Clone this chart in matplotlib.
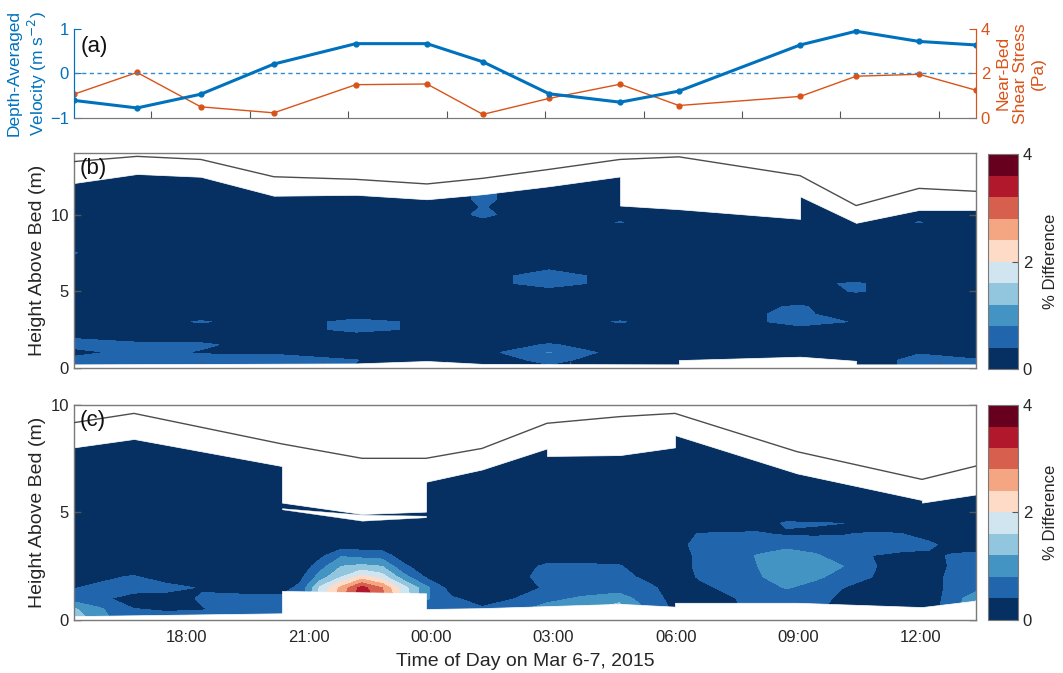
import numpy as np
import matplotlib
matplotlib.use('Agg')
import matplotlib.pyplot as plt
from matplotlib.colors import ListedColormap

plt.rcParams['font.family'] = ['Liberation Sans', 'DejaVu Sans']
plt.rcParams['text.color'] = '#262626'
plt.rcParams['axes.labelcolor'] = '#262626'

# time in hours from 00:00 on Mar 7 (negative = Mar 6)
prof_t = [-8.745, -7.2, -5.64, -3.85, -1.84, -0.1, 1.27, 2.89, 4.63, 6.07, 9.04, 10.41, 11.95, 13.346]

# (a) depth-averaged velocity and near-bed shear stress
velocity = [-0.61, -0.78, -0.47, 0.21, 0.67, 0.67, 0.26, -0.46, -0.65, -0.40, 0.64, 0.95, 0.72, 0.64]
stress = [1.06, 2.04, 0.49, 0.22, 1.49, 1.52, 0.15, 0.87, 1.51, 0.55, 0.96, 1.87, 1.96, 1.24]

a_ticks = [-6.85, -4.44, -2.03, 0.39, 2.80, 5.21, 7.62, 10.02, 12.43]
b_ticks = [-5.63, -2.62, 0.39, 3.40, 6.41, 9.42, 12.43]
c_ticks = [-6, -3, 0, 3, 6, 9, 12]
c_tick_labels = ['18:00', '21:00', '00:00', '03:00', '06:00', '09:00', '12:00']

# (b) water surface, top and bottom of valid data (m)
surf_b = [13.46, 13.8, 13.6, 12.47, 12.3, 12.0, 12.37, 12.95, 13.6, 13.77, 12.54, 10.59, 11.71, 11.52]
top_b_t = [-8.745, -7.2, -5.64, -3.85, -1.84, -0.1, 1.27, 2.89, 4.63, 4.63, 6.07, 9.04, 9.04, 10.41, 11.95, 13.346]
top_b_h = [12.06, 12.65, 12.47, 11.23, 11.29, 11.0, 11.33, 11.85, 12.49, 10.59, 10.35, 9.72, 11.19, 9.46, 10.3, 10.3]
bot_b_t = [-8.745, -1.84, -0.1, 1.27, 6.07, 6.07, 9.04, 10.41, 10.41, 13.346]
bot_b_h = [0.22, 0.28, 0.44, 0.25, 0.22, 0.5, 0.72, 0.45, 0.22, 0.22]

# (b) % difference, one row per height (0 to 13 m by 0.5), one value per profile
h_b = np.arange(0, 13.01, 0.5)
diff_b = [
    [0.6, 0.6, 0.6, 0.55, 0.38, 0.1, 0.1, 0.3, 0.1, 0.1, 0.1, 0.1, 0.55, 0.45],
    [0.6, 0.6, 0.6, 0.55, 0.41, 0.1, 0.1, 0.55, 0.1, 0.1, 0.1, 0.1, 0.55, 0.45],
    [0.2, 0.6, 0.35, 0.35, 0.1, 0.1, 0.25, 0.82, 0.2, 0.1, 0.1, 0.1, 0.36, 0.1],
    [0.6, 0.55, 0.5, 0.1, 0.1, 0.1, 0.1, 0.45, 0.1, 0.1, 0.1, 0.1, 0.1, 0.1],
    [0.35, 0.1, 0.1, 0.1, 0.1, 0.1, 0.1, 0.1, 0.1, 0.1, 0.1, 0.1, 0.1, 0.1],
    [0.1, 0.1, 0.1, 0.1, 0.56, 0.3, 0.1, 0.1, 0.1, 0.1, 0.3, 0.1, 0.1, 0.1],
    [0.1, 0.1, 0.45, 0.1, 0.56, 0.3, 0.1, 0.1, 0.44, 0.1, 0.51, 0.38, 0.1, 0.1],
    [0.1, 0.1, 0.1, 0.1, 0.1, 0.1, 0.1, 0.1, 0.1, 0.1, 0.51, 0.1, 0.1, 0.1],
    [0.1, 0.1, 0.1, 0.1, 0.1, 0.1, 0.1, 0.1, 0.1, 0.1, 0.45, 0.1, 0.1, 0.1],
    [0.1, 0.1, 0.1, 0.1, 0.1, 0.1, 0.1, 0.1, 0.1, 0.1, 0.1, 0.1, 0.1, 0.1],
    [0.1, 0.1, 0.1, 0.1, 0.1, 0.1, 0.1, 0.1, 0.1, 0.1, 0.1, 0.45, 0.1, 0.1],
    [0.1, 0.1, 0.1, 0.1, 0.1, 0.1, 0.1, 0.74, 0.1, 0.1, 0.3, 0.45, 0.1, 0.1],
    [0.1, 0.1, 0.1, 0.1, 0.1, 0.1, 0.1, 0.74, 0.1, 0.1, 0.3, 0.1, 0.1, 0.1],
    [0.1, 0.1, 0.1, 0.1, 0.1, 0.1, 0.1, 0.3, 0.1, 0.1, 0.1, 0.1, 0.1, 0.1],
    [0.1, 0.1, 0.1, 0.1, 0.1, 0.1, 0.1, 0.1, 0.1, 0.1, 0.1, 0.1, 0.1, 0.1],
    [0.42, 0.1, 0.1, 0.1, 0.1, 0.1, 0.1, 0.1, 0.1, 0.1, 0.1, 0.1, 0.1, 0.1],
    [0.1, 0.1, 0.1, 0.1, 0.1, 0.1, 0.1, 0.1, 0.1, 0.1, 0.1, 0.1, 0.1, 0.1],
    [0.1, 0.1, 0.1, 0.1, 0.1, 0.1, 0.1, 0.1, 0.1, 0.1, 0.1, 0.1, 0.1, 0.1],
    [0.1, 0.1, 0.1, 0.1, 0.1, 0.1, 0.1, 0.1, 0.1, 0.1, 0.1, 0.1, 0.1, 0.1],
    [0.1, 0.1, 0.1, 0.1, 0.1, 0.1, 0.3, 0.1, 0.42, 0.1, 0.1, 0.1, 0.42, 0.1],
    [0.1, 0.1, 0.1, 0.1, 0.1, 0.1, 0.48, 0.1, 0.1, 0.1, 0.1, 0.1, 0.1, 0.1],
    [0.1, 0.1, 0.1, 0.1, 0.1, 0.1, 0.42, 0.1, 0.1, 0.1, 0.1, 0.1, 0.1, 0.1],
    [0.1, 0.1, 0.1, 0.1, 0.1, 0.1, 0.48, 0.1, 0.1, 0.1, 0.1, 0.1, 0.1, 0.1],
    [0.1, 0.1, 0.1, 0.1, 0.1, 0.1, 0.48, 0.1, 0.1, 0.1, 0.1, 0.1, 0.1, 0.1],
    [0.1, 0.1, 0.1, 0.1, 0.1, 0.1, 0.1, 0.1, 0.1, 0.1, 0.1, 0.1, 0.1, 0.1],
    [0.1, 0.1, 0.1, 0.1, 0.1, 0.1, 0.1, 0.1, 0.1, 0.1, 0.1, 0.1, 0.1, 0.1],
    [0.1, 0.1, 0.1, 0.1, 0.1, 0.1, 0.1, 0.1, 0.1, 0.1, 0.1, 0.1, 0.1, 0.1],
]

# (c) water surface, top / bottom of valid data, gap in the data
surf_c_t = [-8.745, -7.276, -3.651, -1.691, -0.124, 1.248, 2.84, 4.628, 5.975, 8.963, 12.024, 13.346]
surf_c_h = [9.18, 9.61, 8.19, 7.52, 7.52, 7.98, 9.15, 9.46, 9.61, 7.83, 6.54, 7.16]
top_c_t = [-8.745, -7.276, -3.651, -3.651, -1.691, -0.124, -0.124, 1.248, 2.84, 2.84, 4.628, 5.975, 5.975, 8.963, 12.024, 12.024, 13.346]
top_c_h = [8.03, 8.42, 7.16, 5.46, 4.93, 5.04, 6.43, 7.0, 7.98, 7.63, 7.67, 8.03, 8.6, 6.82, 5.58, 5.46, 5.84]
bot_c_t = [-8.745, -3.651, -3.651, -0.124, -0.124, 1.248, 4.628, 5.975, 5.975, 8.963, 12.024, 13.346]
bot_c_h = [0.18, 0.31, 1.35, 1.24, 0.51, 0.55, 0.75, 0.62, 0.8, 0.8, 0.6, 0.9]
gap_c_t = [-3.651, -1.691, -0.124]
gap_c_lo = [5.15, 4.62, 4.78]
gap_c_hi = [5.2, 4.9, 4.85]

# (c) % difference, one list per time (heights below)
h_c = [0, 0.5, 1, 1.5, 2, 2.5, 3, 3.5, 4, 4.5, 5, 6, 7, 8, 9]
t_c = [-8.745, -8.1, -7.3, -6.5, -5.6, -4.6, -3.65, -3.2, -2.7, -2.2, -1.7, -1.2, -0.7, -0.12, 0.5, 1.25,
       2.0, 2.85, 3.7, 4.6, 5.3, 6.0, 6.6, 7.3, 8.0, 8.7, 9.4, 10.1, 10.8, 11.5, 12.2, 12.8, 13.346]
diff_c_profiles = [
    [1.6, 1.25, 0.6, 0.38, 0.1, 0.1, 0.1, 0.1, 0.1, 0.1, 0.1, 0.1, 0.1, 0.1, 0.1],
    [0.9, 0.85, 0.5, 0.5, 0.3, 0.1, 0.1, 0.1, 0.1, 0.1, 0.1, 0.1, 0.1, 0.1, 0.1],
    [0.6, 0.42, 0.2, 0.6, 0.45, 0.1, 0.1, 0.1, 0.1, 0.1, 0.1, 0.1, 0.1, 0.1, 0.1],
    [0.6, 0.35, 0.2, 0.55, 0.2, 0.1, 0.1, 0.1, 0.1, 0.1, 0.1, 0.1, 0.1, 0.1, 0.1],
    [0.6, 0.38, 0.45, 0.36, 0.1, 0.1, 0.1, 0.1, 0.1, 0.1, 0.1, 0.1, 0.1, 0.1, 0.1],
    [0.55, 0.55, 0.5, 0.25, 0.1, 0.1, 0.1, 0.1, 0.1, 0.1, 0.1, 0.1, 0.1, 0.1, 0.1],
    [0.55, 0.55, 0.5, 0.25, 0.1, 0.1, 0.1, 0.1, 0.1, 0.1, 0.1, 0.1, 0.1, 0.1, 0.1],
    [0.5, 0.5, 0.5, 0.5, 0.3, 0.1, 0.1, 0.1, 0.1, 0.1, 0.1, 0.1, 0.1, 0.1, 0.1],
    [1.8, 1.8, 1.8, 1.7, 1.0, 0.65, 0.3, 0.1, 0.1, 0.1, 0.1, 0.1, 0.1, 0.1, 0.1],
    [2.7, 2.7, 2.7, 2.5, 1.6, 1.2, 0.75, 0.15, 0.1, 0.1, 0.1, 0.1, 0.1, 0.1, 0.1],
    [3.5, 3.5, 3.5, 3.35, 2.15, 1.3, 0.65, 0.15, 0.1, 0.1, 0.1, 0.1, 0.1, 0.1, 0.1],
    [3.0, 3.0, 3.0, 2.8, 1.8, 1.2, 0.6, 0.15, 0.1, 0.1, 0.1, 0.1, 0.1, 0.1, 0.1],
    [2.0, 2.0, 2.0, 1.8, 1.0, 0.5, 0.2, 0.1, 0.1, 0.1, 0.1, 0.1, 0.1, 0.1, 0.1],
    [0.5, 0.5, 0.85, 0.9, 0.35, 0.15, 0.1, 0.1, 0.1, 0.1, 0.1, 0.1, 0.1, 0.1, 0.1],
    [0.45, 0.45, 0.45, 0.2, 0.1, 0.1, 0.1, 0.1, 0.1, 0.1, 0.1, 0.1, 0.1, 0.1, 0.1],
    [0.45, 0.45, 0.25, 0.15, 0.1, 0.1, 0.1, 0.1, 0.1, 0.1, 0.1, 0.1, 0.1, 0.1, 0.1],
    [0.9, 0.7, 0.38, 0.2, 0.2, 0.15, 0.1, 0.1, 0.1, 0.1, 0.1, 0.1, 0.1, 0.1, 0.1],
    [1.0, 0.95, 0.7, 0.45, 0.6, 0.5, 0.1, 0.1, 0.1, 0.1, 0.1, 0.1, 0.1, 0.1, 0.1],
    [1.1, 1.05, 0.85, 0.6, 0.6, 0.5, 0.1, 0.1, 0.1, 0.1, 0.1, 0.1, 0.1, 0.1, 0.1],
    [1.6, 1.5, 1.0, 0.6, 0.55, 0.45, 0.1, 0.1, 0.1, 0.1, 0.1, 0.1, 0.1, 0.1, 0.1],
    [0.8, 0.75, 0.6, 0.5, 0.3, 0.1, 0.1, 0.1, 0.1, 0.1, 0.1, 0.1, 0.1, 0.1, 0.1],
    [0.3, 0.3, 0.25, 0.2, 0.2, 0.2, 0.3, 0.3, 0.3, 0.1, 0.1, 0.1, 0.1, 0.1, 0.1],
    [0.2, 0.2, 0.25, 0.3, 0.45, 0.5, 0.45, 0.5, 0.42, 0.1, 0.1, 0.1, 0.1, 0.1, 0.1],
    [0.3, 0.3, 0.35, 0.5, 0.6, 0.65, 0.65, 0.6, 0.45, 0.15, 0.1, 0.1, 0.1, 0.1, 0.1],
    [0.55, 0.55, 0.55, 0.65, 0.75, 0.8, 0.82, 0.6, 0.45, 0.2, 0.1, 0.1, 0.1, 0.1, 0.1],
    [0.5, 0.55, 0.6, 0.82, 1.0, 1.0, 0.95, 0.7, 0.35, 0.45, 0.1, 0.1, 0.1, 0.1, 0.1],
    [0.45, 0.45, 0.55, 0.7, 0.85, 0.9, 0.85, 0.6, 0.35, 0.42, 0.1, 0.1, 0.1, 0.1, 0.1],
    [0.3, 0.3, 0.3, 0.4, 0.7, 0.8, 0.6, 0.55, 0.38, 0.4, 0.1, 0.1, 0.1, 0.1, 0.1],
    [0.25, 0.25, 0.25, 0.3, 0.4, 0.42, 0.4, 0.5, 0.45, 0.15, 0.1, 0.1, 0.1, 0.1, 0.1],
    [0.25, 0.25, 0.25, 0.25, 0.25, 0.3, 0.35, 0.5, 0.42, 0.1, 0.1, 0.1, 0.1, 0.1, 0.1],
    [0.25, 0.25, 0.25, 0.25, 0.25, 0.25, 0.3, 0.5, 0.2, 0.1, 0.1, 0.1, 0.1, 0.1, 0.1],
    [0.6, 0.6, 0.55, 0.5, 0.5, 0.45, 0.45, 0.2, 0.15, 0.1, 0.1, 0.1, 0.1, 0.1, 0.1],
    [1.3, 1.4, 1.15, 0.6, 0.55, 0.55, 0.5, 0.15, 0.1, 0.1, 0.1, 0.1, 0.1, 0.1, 0.1],
]

levels = np.linspace(0, 4, 11)
cmap = ListedColormap(['#053061', '#2166ac', '#4393c3', '#92c5de', '#d1e5f0',
                       '#fddbc7', '#f4a582', '#d6604d', '#b2182b', '#67001f'])
blue = '#0072BD'
orange = '#D95319'
spine_col = '#7a7a7a'
xlim = (prof_t[0], prof_t[-1])

fig = plt.figure(figsize=(10.63, 6.73), dpi=100)


def style_box(ax):
    for s in ax.spines.values():
        s.set_color(spine_col)
        s.set_linewidth(1.0)
    ax.tick_params(direction='in', top=True, right=True, length=5, width=1,
                   color='#555555', labelsize=12, labelcolor='#262626')
    ax.tick_params(axis='x', pad=7)


def contour_panel(rect, cbar_rect, t, h, z, top_t, top_h, bot_t, bot_h, surf_t, surf_h, ymax, letter):
    ax = fig.add_axes(rect)
    cf = ax.contourf(t, h, z, levels=levels, cmap=cmap, zorder=1)
    ax.fill_between(top_t, top_h, ymax + 2, color='white', ec='white', lw=0.5, zorder=2)
    ax.fill_between(bot_t, -1, bot_h, color='white', ec='white', lw=0.5, zorder=2)
    ax.plot(surf_t, surf_h, color='#4d4d4d', lw=1.0, zorder=3)
    ax.set_xlim(xlim)
    ax.set_ylim(0, ymax)
    ax.set_yticks([0, 5, 10])
    ax.set_ylabel('Height Above Bed (m)', fontsize=14, labelpad=3)
    ax.text(0.006, 0.93 if ymax > 10 else 0.927, letter, transform=ax.transAxes,
            fontsize=16, va='center', ha='left', color='#111111', zorder=4)
    style_box(ax)
    cax = fig.add_axes(cbar_rect)
    cb = fig.colorbar(cf, cax=cax, ticks=[0, 2, 4])
    cb.outline.set_edgecolor(spine_col)
    cb.ax.tick_params(direction='in', length=4, color='#555555', labelsize=12, labelcolor='#262626')
    cb.set_label('% Difference', fontsize=12, labelpad=8)
    return ax


# ---- (a)
ax_a = fig.add_axes([0.0696, 0.8251, 0.8485, 0.1318])
ax_a2 = ax_a.twinx()
ax_a.axhline(0, color='#2d8bd6', lw=1.0, dashes=(3, 2.5))
ax_a.plot(prof_t, velocity, color=blue, lw=2.2, marker='.', ms=7)
ax_a2.plot(prof_t, stress, color=orange, lw=1.0, marker='.', ms=7)
ax_a.set_zorder(ax_a2.get_zorder() + 1)
ax_a.patch.set_visible(False)
ax_a.set_xlim(xlim)
ax_a.set_ylim(-1, 1)
ax_a2.set_ylim(0, 4)
ax_a.set_yticks([-1, 0, 1])
ax_a2.set_yticks([0, 2, 4])
ax_a.set_xticks(a_ticks)
ax_a.set_xticklabels([])
for ax in (ax_a, ax_a2):
    ax.spines['top'].set_visible(False)
    ax.spines['bottom'].set_color(spine_col)
    ax.spines['left'].set_color(blue)
    ax.spines['right'].set_color(orange)
ax_a.tick_params(axis='x', direction='in', length=5, color='#555555')
ax_a.tick_params(axis='y', direction='in', length=5, color=blue, labelcolor=blue, labelsize=12)
ax_a2.tick_params(axis='y', direction='in', length=5, color=orange, labelcolor=orange, labelsize=12)
ax_a.set_ylabel('Depth-Averaged\nVelocity (m s$^{-2}$)', color=blue, fontsize=12.5,
                multialignment='center', labelpad=1)
ax_a2.set_ylabel('Near-Bed\nShear Stress\n(Pa)', color=orange, fontsize=12.5,
                 multialignment='center', labelpad=4)
ax_a.text(0.007, 0.80, '(a)', transform=ax_a.transAxes, fontsize=16, va='center', ha='left', color='#111111')

# ---- (b)
ax_b = contour_panel([0.0696, 0.4536, 0.8485, 0.3186], [0.9294, 0.4513, 0.0282, 0.3199],
                     prof_t, h_b, np.array(diff_b), top_b_t, top_b_h, bot_b_t, bot_b_h,
                     prof_t, surf_b, 14, '(b)')
ax_b.set_xticks(b_ticks)
ax_b.set_xticklabels([])

# ---- (c)
ax_c = contour_panel([0.0696, 0.0788, 0.8485, 0.3194], [0.9294, 0.0788, 0.0282, 0.3194],
                     t_c, h_c, np.array(diff_c_profiles).T, top_c_t, top_c_h, bot_c_t, bot_c_h,
                     surf_c_t, surf_c_h, 10, '(c)')
ax_c.fill_between(gap_c_t, gap_c_lo, gap_c_hi, color='white', ec='white', lw=0.3, zorder=2)
ax_c.set_xticks(c_ticks)
ax_c.set_xticklabels(c_tick_labels)
ax_c.set_xlabel('Time of Day on Mar 6-7, 2015', fontsize=14, labelpad=6)

fig.savefig('out.png', dpi=100)
